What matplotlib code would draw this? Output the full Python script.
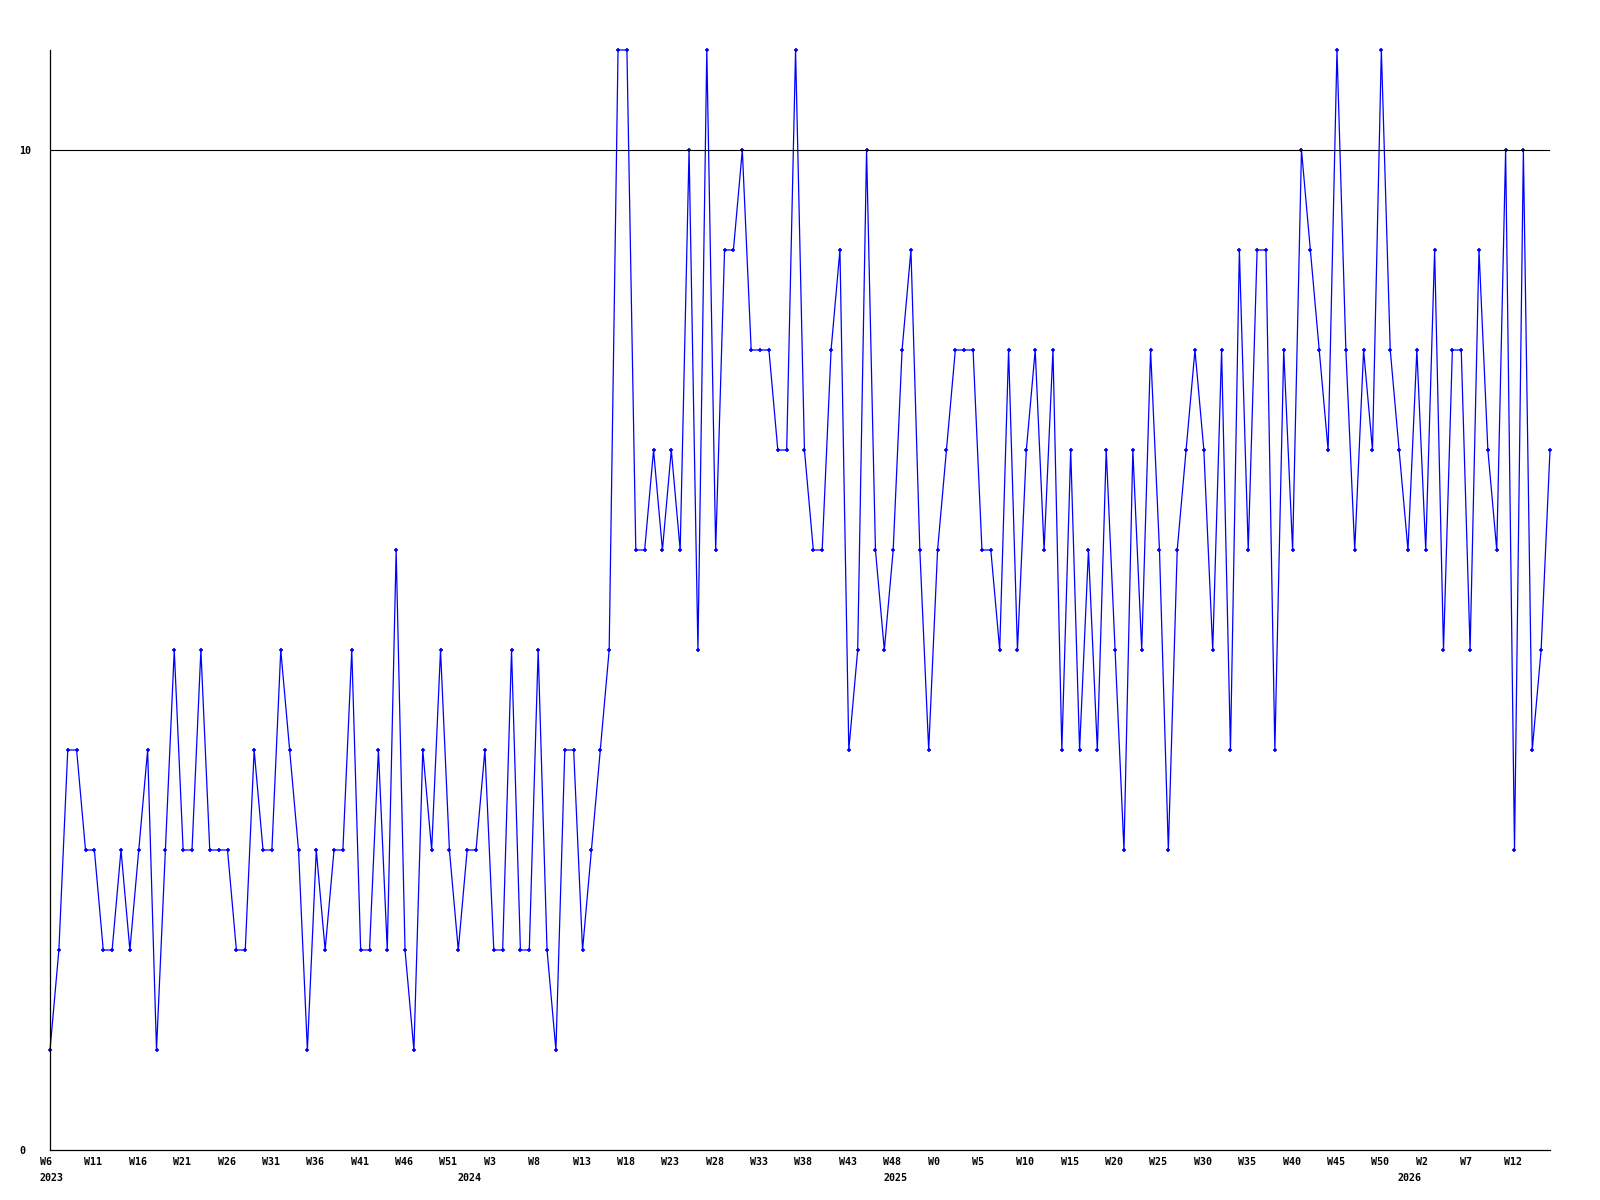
import matplotlib.pyplot as plt
from matplotlib.transforms import ScaledTranslation

# weekly values, one per point (2023 W6 .. 2026 W16)
values = [1, 2, 4, 4, 3, 3, 2, 2, 3, 2, 3, 4, 1, 3, 5, 3, 3, 5, 3, 3, 3, 2,
          2, 4, 3, 3, 5, 4, 3, 1, 3, 2, 3, 3, 5, 2, 2, 4, 2, 6, 2, 1, 4,
          3, 5, 3, 2, 3, 3, 4, 2, 2, 5, 2, 2, 5, 2, 1, 4, 4, 2, 3, 4, 5, 11,
          11, 6, 6, 7, 6, 7, 6, 10, 5, 11, 6, 9, 9, 10, 8, 8, 8, 7, 7, 11, 7,
          6, 6, 8, 9, 4, 5, 10, 6, 5, 6, 8, 9, 6, 4, 6, 7, 8, 8, 8, 6, 6, 5,
          8, 5, 7, 8, 6, 8, 4, 7, 4, 6, 4, 7, 5, 3, 7, 5, 8, 6, 3, 6, 7,
          8, 7, 5, 8, 4, 9, 6, 9, 9, 4, 8, 6, 10, 9, 8, 7, 11, 8, 6, 8, 7,
          11, 8, 7, 6, 8, 6, 9, 5, 8, 8, 5, 9, 7, 6, 10, 3, 10, 4, 5, 7]

week_labels = ["W6", "W11", "W16", "W21", "W26", "W31", "W36", "W41", "W46", "W51",
               "W3", "W8", "W13", "W18", "W23", "W28", "W33", "W38", "W43", "W48",
               "W0", "W5", "W10", "W15", "W20", "W25", "W30", "W35", "W40", "W45", "W50",
               "W2", "W7", "W12"]
week_pos = list(range(0, 5 * len(week_labels), 5))

years = ["2023", "2024", "2025", "2026"]
year_pos = [0, 47, 95, 153]

threshold = 10

fig = plt.figure(figsize=(16, 12), dpi=100)
ax = fig.add_axes([50/1600, 50/1200, 1500/1600, 1100/1200])

x = list(range(len(values)))
ax.plot(x, values, color='#0000ff', lw=0.9, marker='+', ms=3, mew=1.2, clip_on=False)
ax.axhline(threshold, color='black', lw=0.8)

ax.set_xlim(0, len(values) - 1)
ax.set_ylim(0, 11)
for s in ['top', 'right']:
    ax.spines[s].set_visible(False)
for s in ['left', 'bottom']:
    ax.spines[s].set_linewidth(0.9)

font = dict(family='DejaVu Sans Mono', weight='bold', size=7.2)
shift = ScaledTranslation(-10/100, 0, fig.dpi_scale_trans)

ax.set_xticks(week_pos, week_labels, ha='left', **font)
ax.tick_params(axis='x', length=0, pad=5)
for lab in ax.get_xticklabels():
    lab.set_transform(lab.get_transform() + shift)

for yr, p in zip(years, year_pos):
    ax.annotate(yr, xy=(p, 0), xycoords=('data', 'axes fraction'),
                xytext=(-10/100*72, -16.5), textcoords='offset points',
                ha='left', va='top', **font)

ax.set_yticks([0, threshold], ["0", "10"], ha='left', **font)
ax.tick_params(axis='y', length=0, pad=22.3)

fig.savefig('out.png', dpi=100, facecolor='white')
